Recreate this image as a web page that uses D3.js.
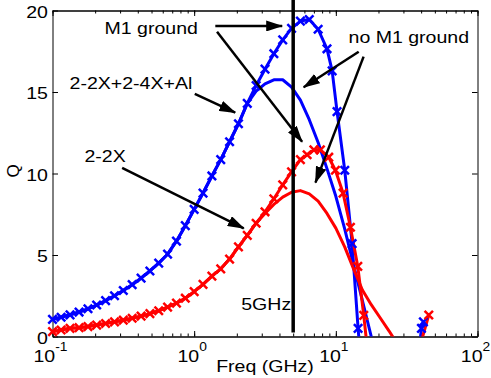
<!doctype html>
<html>
<head>
<script src="https://cdn.jsdelivr.net/npm/d3@7"></script>
<style>
  body { margin: 0; background: #fff; }
  svg text { font-family: "Liberation Sans", Arial, sans-serif; fill: #000; }
</style>
</head>
<body>
<svg id="chart" width="491" height="378"></svg>
<script>
var freqGrid = [0.100, 0.115, 0.133, 0.154, 0.178, 0.205, 0.237, 0.274, 0.316, 0.365,
  0.422, 0.487, 0.562, 0.649, 0.750, 0.866, 1.000, 1.155, 1.334, 1.540,
  1.778, 2.054, 2.371, 2.738, 3.162, 3.652, 4.217, 4.870, 5.623, 6.494,
  7.499, 8.660, 10.00, 11.55, 13.34, 15.40, 17.78, 20.54, 23.71, 27.38];

// 2-2X+2-4X+Al, M1 ground (blue, x markers)
var freqBlueM1 = freqGrid.slice(0, 32).concat([9.42, 10.2, 11.56, 13.03, 14.36, 16.2, 36.5, 40.2, 41.5]);
var qBlueM1 = [1.05, 1.18, 1.33, 1.50, 1.70, 1.93, 2.20, 2.50, 2.82, 3.18,
  3.58, 4.02, 4.50, 5.05, 5.85, 6.80, 7.80, 8.80, 9.85, 10.85,
  11.95, 13.05, 14.30, 15.40, 16.40, 17.35, 18.20, 18.90, 19.35, 19.45,
  18.85, 17.65, 16.3, 13.8, 10.2, 5.7, 0.5, -5, -3, 0.5, 0.9];

// 2-2X+2-4X+Al, no M1 ground (blue, plain)
var freqBlueNo = freqGrid.slice(0, 38);
var qBlueNo = [1.05, 1.18, 1.33, 1.50, 1.70, 1.93, 2.20, 2.50, 2.82, 3.18,
  3.58, 4.02, 4.50, 5.05, 5.85, 6.80, 7.80, 8.80, 9.85, 10.85,
  11.95, 13.05, 14.30, 15.05, 15.50, 15.75, 15.75, 15.30, 14.50, 13.30,
  11.90, 10.30, 8.60, 6.60, 4.40, 2.20, 0.0, -2.2];

// 2-2X, M1 ground (red, x markers)
var freqRedM1 = freqGrid.slice(0, 29).concat([6.27, 7.0, 7.78, 8.91, 9.93, 11.25, 12.68, 14.29, 15.74, 17.8, 37.5, 45.3]);
var qRedM1 = [0.30, 0.40, 0.50, 0.54, 0.61, 0.70, 0.80, 0.90, 1.00, 1.12,
  1.25, 1.40, 1.58, 1.80, 2.05, 2.35, 2.75, 3.20, 3.70, 4.15,
  4.75, 5.50, 6.20, 6.95, 7.65, 8.45, 9.30, 10.10, 10.85,
  11.15, 11.45, 11.45, 11.0, 10.2, 8.8, 6.7, 4.3, 1.3, -3, -1.2, 1.32];

// 2-2X, no M1 ground (red, plain)
var freqRedNo = freqGrid.slice(0, 40);
var qRedNo = [0.30, 0.40, 0.50, 0.54, 0.61, 0.70, 0.80, 0.90, 1.00, 1.12,
  1.25, 1.40, 1.58, 1.80, 2.05, 2.35, 2.75, 3.20, 3.70, 4.15,
  4.75, 5.50, 6.20, 6.95, 7.55, 8.10, 8.55, 8.85, 8.95, 8.75,
  8.30, 7.55, 6.65, 5.50, 4.15, 2.85, 1.95, 1.15, 0.35, -0.5];

var xTicks = [0.1, 1, 10, 100];
var yTicks = [0, 5, 10, 15, 20];
var markFreq = 5;

// annotations: [text, freq, Q, anchor]
var labels = [
  ["M1 ground", 0.233, 18.54, "start"],
  ["no M1 ground", 12.3, 18.0, "start"],
  ["2-2X+2-4X+Al", 0.132, 15.17, "start"],
  ["2-2X", 0.168, 10.69, "start"]
];
// arrows: [fromFreq, fromQ, toFreq, toQ]
var arrows = [
  [1.41, 19.05, 4.18, 19.05],
  [1.45, 18.7, 5.78, 11.95],
  [14.5, 17.47, 5.93, 15.29],
  [15.7, 17.17, 7.18, 9.44],
  [1.01, 14.88, 1.95, 13.73],
  [0.31, 10.35, 2.24, 6.64]
];

var svg = d3.select("#chart");
var x = d3.scaleLog().domain([0.1, 100]).range([52.5, 477.5]);
var y = d3.scaleLinear().domain([0, 20]).range([336.5, 10.5]);
var sx = 1.15; // the original figure is stretched sideways

svg.append("defs").append("clipPath").attr("id", "plotclip")
  .append("rect").attr("x", 52.5).attr("y", 10.5).attr("width", 425).attr("height", 326);

var arrowHead = svg.select("defs").append("marker")
  .attr("id", "head").attr("markerUnits", "userSpaceOnUse")
  .attr("markerWidth", 17).attr("markerHeight", 11)
  .attr("refX", 16).attr("refY", 5.5).attr("orient", "auto");
arrowHead.append("path").attr("d", "M0,0L17,5.5L0,11Z").attr("fill", "#000");

// axes, ticks pointing inwards on all four sides
function styleAxis(g) {
  g.attr("font-family", null).attr("font-size", null);
  g.selectAll("line, path").attr("stroke", "#000").attr("stroke-width", 1);
}
svg.append("g").attr("transform", "translate(0,336.5)")
  .call(d3.axisBottom(x).tickValues(x.ticks()).tickSizeInner(-3).tickSizeOuter(0).tickFormat(""))
  .call(styleAxis);
svg.append("g").attr("transform", "translate(0,10.5)")
  .call(d3.axisTop(x).tickValues(x.ticks()).tickSizeInner(-3).tickSizeOuter(0).tickFormat(""))
  .call(styleAxis);
var xAxisG = svg.append("g").attr("transform", "translate(0,336.5)")
  .call(d3.axisBottom(x).tickValues(xTicks).tickSizeInner(-5.5).tickSizeOuter(0).tickFormat(""))
  .call(styleAxis);
svg.append("g").attr("transform", "translate(0,10.5)")
  .call(d3.axisTop(x).tickValues(xTicks).tickSizeInner(-5.5).tickSizeOuter(0).tickFormat(""))
  .call(styleAxis);
var yAxisG = svg.append("g").attr("transform", "translate(52.5,0)")
  .call(d3.axisLeft(y).tickValues(yTicks).tickSizeInner(-5.5).tickSizeOuter(0).tickPadding(4))
  .call(styleAxis);
svg.append("g").attr("transform", "translate(477.5,0)")
  .call(d3.axisRight(y).tickValues(yTicks).tickSizeInner(-5.5).tickSizeOuter(0).tickFormat(""))
  .call(styleAxis);

yAxisG.selectAll(".tick text")
  .attr("font-size", 17).attr("dy", "0.4em").attr("fill", "#000")
  .attr("transform", "scale(" + sx + ",1)");

xAxisG.selectAll(".tick").each(function(d) {
  var t = d3.select(this).append("text")
    .attr("text-anchor", "middle").attr("font-size", 17)
    .attr("transform", "translate(-2.5,25) scale(" + sx + ",1)");
  t.append("tspan").text("10");
  t.append("tspan").attr("font-size", 12).attr("dy", -11).text(Math.round(Math.log10(d)));
});

svg.append("text").attr("text-anchor", "middle").attr("font-size", 17)
  .attr("transform", "translate(265,372) scale(" + sx + ",1)").text("Freq (GHz)");
svg.append("text").attr("text-anchor", "middle").attr("font-size", 17)
  .attr("transform", "translate(18.5,171) rotate(-90)").text("Q");

// data
var plot = svg.append("g").attr("clip-path", "url(#plotclip)");
var line = d3.line().x(function(d) { return x(d[0]); }).y(function(d) { return y(d[1]); });

function drawSeries(freq, q, color, withMarkers) {
  var pts = freq.map(function(f, i) { return [f, q[i]]; });
  plot.append("path").datum(pts).attr("d", line)
    .attr("fill", "none").attr("stroke", color).attr("stroke-width", 3)
    .attr("stroke-linejoin", "round");
  if (withMarkers) {
    svg.append("g").selectAll("path")
      .data(pts.filter(function(d) { return d[1] >= 0 && d[1] <= 20; }))
      .enter().append("path")
      .attr("transform", function(d) { return "translate(" + x(d[0]) + "," + y(d[1]) + ")"; })
      .attr("d", "M-4.2,-4.2L4.2,4.2M-4.2,4.2L4.2,-4.2")
      .attr("stroke", color).attr("stroke-width", 2.5).attr("fill", "none");
  }
}
drawSeries(freqBlueNo, qBlueNo, "#0000ff", false);
drawSeries(freqBlueM1, qBlueM1, "#0000ff", true);
drawSeries(freqRedNo, qRedNo, "#ff0000", false);
drawSeries(freqRedM1, qRedM1, "#ff0000", true);

// 5 GHz marker line
svg.append("line")
  .attr("x1", x(markFreq)).attr("x2", x(markFreq))
  .attr("y1", y(20.7)).attr("y2", y(0.25))
  .attr("stroke", "#000").attr("stroke-width", 3.5);
svg.append("text").attr("text-anchor", "end").attr("font-size", 17)
  .attr("transform", "translate(" + (x(markFreq) - 2) + "," + y(1.6) + ") scale(" + sx + ",1)")
  .text("5GHz");

// annotations
svg.append("g").selectAll("line").data(arrows).enter().append("line")
  .attr("x1", function(d) { return x(d[0]); }).attr("y1", function(d) { return y(d[1]); })
  .attr("x2", function(d) { return x(d[2]); }).attr("y2", function(d) { return y(d[3]); })
  .attr("stroke", "#000").attr("stroke-width", 2.5).attr("marker-end", "url(#head)");

svg.append("g").selectAll("text").data(labels).enter().append("text")
  .attr("font-size", 17)
  .attr("text-anchor", function(d) { return d[3]; })
  .attr("transform", function(d) { return "translate(" + x(d[1]) + "," + y(d[2]) + ") scale(" + sx + ",1)"; })
  .text(function(d) { return d[0]; });
</script>
</body>
</html>
